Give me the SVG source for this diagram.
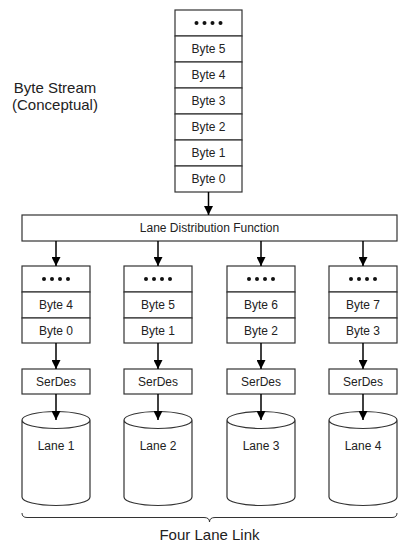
<svg xmlns="http://www.w3.org/2000/svg" width="411" height="548" viewBox="0 0 411 548">
<style>
.box{fill:#fff;stroke:#333;stroke-width:1.2}
.t{font-family:"Liberation Sans",Arial,sans-serif;font-size:12px;fill:#222;text-anchor:middle;dominant-baseline:central}
.big{font-family:"Liberation Sans",Arial,sans-serif;font-size:15px;fill:#222;text-anchor:middle;dominant-baseline:central}
.dot{fill:#111}
.c{stroke:#000;stroke-width:1.5;fill:none;marker-end:url(#ah)}
.cyl{fill:#fff;stroke:#333;stroke-width:1.2}
</style>
<defs>
<marker id="ah" viewBox="0 0 10 10" refX="10" refY="5" markerWidth="6" markerHeight="6" markerUnits="strokeWidth" orient="auto">
<path d="M0,0 L10,5 L0,10 z" fill="#000"/>
</marker>
<g id="dots4"><circle class="dot" cx="-12" cy="0" r="2"/><circle class="dot" cx="-4" cy="0" r="2"/><circle class="dot" cx="4" cy="0" r="2"/><circle class="dot" cx="12" cy="0" r="2"/></g>
</defs>
<rect width="411" height="548" fill="#fff"/>

<g id="label-stream">
<text class="big" x="55" y="87">Byte Stream</text>
<text class="big" x="55" y="104">(Conceptual)</text>
</g>

<g id="stream">
<rect class="box" x="175" y="10" width="67" height="26"/>
<use href="#dots4" x="208.5" y="23"/>
<rect class="box" x="175" y="36" width="67" height="26"/><text class="t" x="208.5" y="49">Byte 5</text>
<rect class="box" x="175" y="62" width="67" height="26"/><text class="t" x="208.5" y="75">Byte 4</text>
<rect class="box" x="175" y="88" width="67" height="26"/><text class="t" x="208.5" y="101">Byte 3</text>
<rect class="box" x="175" y="114" width="67" height="26"/><text class="t" x="208.5" y="127">Byte 2</text>
<rect class="box" x="175" y="140" width="67" height="26"/><text class="t" x="208.5" y="153">Byte 1</text>
<rect class="box" x="175" y="166" width="67" height="26"/><text class="t" x="208.5" y="179">Byte 0</text>
</g>

<g id="ldf">
<rect class="box" x="22" y="215" width="375" height="26"/>
<text class="t" x="209.5" y="228">Lane Distribution Function</text>
</g>

<g id="lane1-stack">
<rect class="box" x="22" y="266" width="68" height="26"/><use href="#dots4" x="56" y="279"/>
<rect class="box" x="22" y="292" width="68" height="26"/><text class="t" x="56" y="305">Byte 4</text>
<rect class="box" x="22" y="318" width="68" height="25"/><text class="t" x="56" y="330.5">Byte 0</text>
</g>
<g id="lane2-stack">
<rect class="box" x="124" y="266" width="68" height="26"/><use href="#dots4" x="158" y="279"/>
<rect class="box" x="124" y="292" width="68" height="26"/><text class="t" x="158" y="305">Byte 5</text>
<rect class="box" x="124" y="318" width="68" height="25"/><text class="t" x="158" y="330.5">Byte 1</text>
</g>
<g id="lane3-stack">
<rect class="box" x="227" y="266" width="68" height="26"/><use href="#dots4" x="261" y="279"/>
<rect class="box" x="227" y="292" width="68" height="26"/><text class="t" x="261" y="305">Byte 6</text>
<rect class="box" x="227" y="318" width="68" height="25"/><text class="t" x="261" y="330.5">Byte 2</text>
</g>
<g id="lane4-stack">
<rect class="box" x="329" y="266" width="68" height="26"/><use href="#dots4" x="363" y="279"/>
<rect class="box" x="329" y="292" width="68" height="26"/><text class="t" x="363" y="305">Byte 7</text>
<rect class="box" x="329" y="318" width="68" height="25"/><text class="t" x="363" y="330.5">Byte 3</text>
</g>

<g id="serdes1"><rect class="box" x="22" y="369" width="68" height="25"/><text class="t" x="56" y="381.5">SerDes</text></g>
<g id="serdes2"><rect class="box" x="124" y="369" width="68" height="25"/><text class="t" x="158" y="381.5">SerDes</text></g>
<g id="serdes3"><rect class="box" x="227" y="369" width="68" height="25"/><text class="t" x="261" y="381.5">SerDes</text></g>
<g id="serdes4"><rect class="box" x="329" y="369" width="68" height="25"/><text class="t" x="363" y="381.5">SerDes</text></g>

<g id="lane1"><path class="cyl" d="M22,420 a34,8.5 0 0 1 68,0 v77 a34,8.5 0 0 1 -68,0 z M22,420 a34,8.5 0 0 0 68,0"/><text class="t" x="56" y="446">Lane 1</text></g>
<g id="lane2"><path class="cyl" d="M124,420 a34,8.5 0 0 1 68,0 v77 a34,8.5 0 0 1 -68,0 z M124,420 a34,8.5 0 0 0 68,0"/><text class="t" x="158" y="446">Lane 2</text></g>
<g id="lane3"><path class="cyl" d="M227,420 a34,8.5 0 0 1 68,0 v77 a34,8.5 0 0 1 -68,0 z M227,420 a34,8.5 0 0 0 68,0"/><text class="t" x="261" y="446">Lane 3</text></g>
<g id="lane4"><path class="cyl" d="M329,420 a34,8.5 0 0 1 68,0 v77 a34,8.5 0 0 1 -68,0 z M329,420 a34,8.5 0 0 0 68,0"/><text class="t" x="363" y="446">Lane 4</text></g>

<g id="link">
<path d="M22,513 Q22,517.5 27,517.5 L204,517.5 Q209.5,517.5 209.5,522 Q209.5,517.5 215,517.5 L392,517.5 Q397,517.5 397,513" fill="none" stroke="#333" stroke-width="1"/>
<text class="big" x="209.5" y="534">Four Lane Link</text>
</g>

<g id="connectors">
<line class="c" x1="208.5" y1="192" x2="208.5" y2="215"/>
<line class="c" x1="56" y1="241" x2="56" y2="266"/>
<line class="c" x1="158" y1="241" x2="158" y2="266"/>
<line class="c" x1="261" y1="241" x2="261" y2="266"/>
<line class="c" x1="363" y1="241" x2="363" y2="266"/>
<line class="c" x1="56" y1="343" x2="56" y2="369"/>
<line class="c" x1="158" y1="343" x2="158" y2="369"/>
<line class="c" x1="261" y1="343" x2="261" y2="369"/>
<line class="c" x1="363" y1="343" x2="363" y2="369"/>
<line class="c" x1="56" y1="394" x2="56" y2="420"/>
<line class="c" x1="158" y1="394" x2="158" y2="420"/>
<line class="c" x1="261" y1="394" x2="261" y2="420"/>
<line class="c" x1="363" y1="394" x2="363" y2="420"/>
</g>
</svg>
